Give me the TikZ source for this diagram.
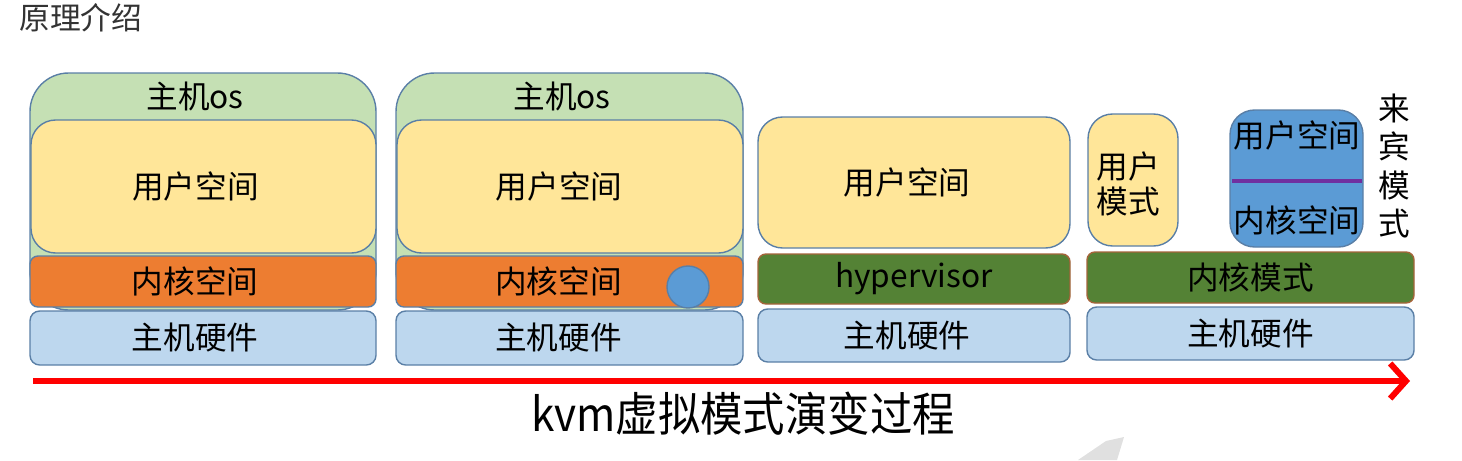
\documentclass[tikz,border=0pt]{standalone}
\usepackage{fontspec}
\setmainfont{Noto Sans CJK SC}
\usetikzlibrary{arrows.meta,fit,positioning}

\definecolor{osgreen}{HTML}{C5E0B4}
\definecolor{useryellow}{HTML}{FFE699}
\definecolor{kernorange}{HTML}{ED7D31}
\definecolor{hwblue}{HTML}{BDD7EE}
\definecolor{hypgreen}{HTML}{548235}
\definecolor{hypedge}{HTML}{A5643A}
\definecolor{guestblue}{HTML}{5B9BD5}
\definecolor{edgeblue}{HTML}{5A7FA6}
\definecolor{sepviolet}{HTML}{7030A0}
\definecolor{titlegray}{HTML}{333333}

\tikzset{
  layer/.style={draw=edgeblue, line width=0.8pt, inner sep=0pt},
  osbox/.style={layer, fill=osgreen, rounded corners=22pt},
  userbox/.style={layer, fill=useryellow, rounded corners=14pt},
  kernbox/.style={layer, fill=kernorange, rounded corners=4.5pt},
  hwbox/.style={layer, fill=hwblue, rounded corners=5.5pt},
  hypbox/.style={layer, draw=hypedge, fill=hypgreen, rounded corners=4.5pt},
  guestbox/.style={layer, fill=guestblue, rounded corners=14pt},
  boxtext/.style={font=\fontsize{18}{20}\selectfont, inner sep=0pt},
  timeline/.style={red, line width=3.4pt,
    -{Straight Barb[length=9pt,width=20pt]}},
}

\begin{document}
\begin{tikzpicture}[x=0.02cm, y=-0.02cm]

\useasboundingbox (0,0) rectangle (1462,460);

% title
\node[anchor=west, text=titlegray, font=\fontsize{17.5}{20}\selectfont,
  inner sep=0pt] (title) at (19,18) {原理介绍};

%====================================================
% Stage 1 : host os
%====================================================
\node[osbox, fit={(30,73) (376,310)}] (os1) {};
\node[boxtext] (os1t) at (195,96) {主机os};
\node[userbox, fit={(31,120) (376,253)}] (user1) {};
\node[boxtext] at ([xshift=-0.16cm]user1.center) {用户空间};
\node[kernbox, fit={(30,256) (376,307)}] (kern1) {};
\node[boxtext] at ([xshift=-0.16cm]kern1.center) {内核空间};
\node[hwbox, fit={(30,311) (376,365)}] (hw1) {};
\node[boxtext] at ([xshift=-0.16cm]hw1.center) {主机硬件};

%====================================================
% Stage 2 : host os with module
%====================================================
\node[osbox, fit={(396,73) (743,310)}] (os2) {};
\node[boxtext] (os2t) at (562,96) {主机os};
\node[userbox, fit={(397,120) (743,253)}] (user2) {};
\node[boxtext] at ([xshift=-0.22cm]user2.center) {用户空间};
\node[kernbox, fit={(396,256) (743,307)}] (kern2) {};
\node[boxtext] at ([xshift=-0.22cm]kern2.center) {内核空间};
\node[hwbox, fit={(396,311) (743,365)}] (hw2) {};
\node[boxtext] at ([xshift=-0.22cm]hw2.center) {主机硬件};

% module in kernel
\node[circle, draw=edgeblue, fill=guestblue, line width=0.8pt,
  minimum size=0.84cm, inner sep=0pt] (mod2) at (688,287) {};

%====================================================
% Stage 3 : hypervisor
%====================================================
\node[userbox, fit={(758,117) (1070,248)}] (user3) {};
\node[boxtext] at ([xshift=-0.14cm]user3.center) {用户空间};
\node[hypbox, fit={(758,254) (1070,304)}] (hyp3) {};
\node[boxtext] at (hyp3.center) {hypervisor};
\node[hwbox, fit={(758,309) (1070,362)}] (hw3) {};
\node[boxtext] at ([xshift=-0.14cm]hw3.center) {主机硬件};

%====================================================
% Stage 4 : kvm
%====================================================
\node[userbox, fit={(1088,114) (1178,246)}] (user4) {};
\node[boxtext, align=center] (user4t) at (1128,184) {用户\\模式};

\node[guestbox, fit={(1230,110) (1363,247)}] (guest4) {};
\node[boxtext] (guestu) at (1297,135) {用户空间};
\node[boxtext] (guestk) at (1297,220) {内核空间};
\draw[sepviolet, line width=2.8pt] (1232,181) -- (1362,181);

\node[boxtext, align=center, font=\fontsize{18}{22}\selectfont]
  (guestt) at (1394,166) {来\\宾\\模\\式};

\node[hypbox, fit={(1087,252) (1414,303)}] (kmode4) {};
\node[boxtext] at (kmode4.center) {内核模式};
\node[hwbox, fit={(1087,307) (1414,360)}] (hw4) {};
\node[boxtext] at (hw4.center) {主机硬件};

%Arrow
\coordinate (tstart) at (33,381);
\coordinate (tend) at (1410,381);
\draw[timeline] (tstart) -- (tend);

\node[font=\fontsize{26.5}{28}\selectfont, inner sep=0pt]
  (caption) at (743,414) {\scalebox{0.91}[1]{kvm虚拟模式演变过程}};

% watermark
\fill[black!12] (1078,460) -- (1106,441) -- (1124,437) -- (1117,460) -- cycle;

\end{tikzpicture}
\end{document}
